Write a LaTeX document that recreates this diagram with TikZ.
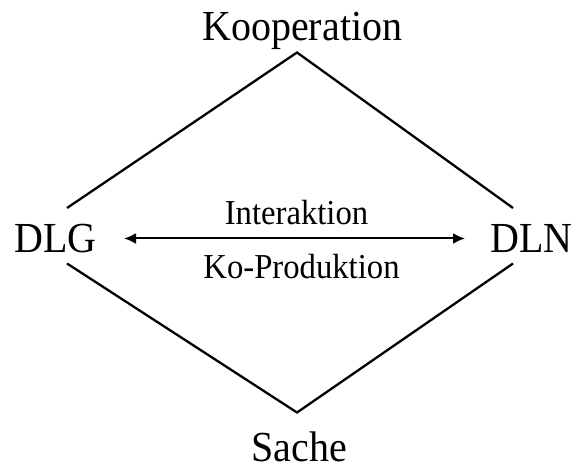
\documentclass[tikz,border=0pt]{standalone}
\usepackage{fontspec}
\setmainfont{Liberation Serif}
\usetikzlibrary{arrows.meta}
\newcommand\tallT[1]{\scalebox{1}[1.07]{#1}}
\begin{document}
\begin{tikzpicture}[x=1pt,y=1pt,
  big/.style={inner sep=0pt, font=\fontsize{40}{40}\selectfont},
  small/.style={inner sep=0pt, font=\fontsize{32.7}{32.7}\selectfont},
  edge/.style={line width=2.3pt, line join=miter},
  link/.style={line width=2pt, {Latex[length=12pt,width=11pt]}-{Latex[length=12pt,width=11pt]}}]
\useasboundingbox (0,0) rectangle (572,465);
\node[big, anchor=base] (koop) at (302.3,424) {\tallT{Kooperation}};
\node[big, anchor=base west] (dlg) at (14,212) {\tallT{DLG}};
\node[big, anchor=base west] (dln) at (490,212) {\tallT{DLN}};
\node[big, anchor=base] (sache) at (299,3) {\tallT{Sache}};
\node[small, anchor=base] (inter) at (296.5,240) {\tallT{Interaktion}};
\node[small, anchor=base] (kopro) at (301.5,186.7) {\tallT{Ko-Produktion}};
\coordinate (top) at (297,412.5);
\coordinate (bot) at (297,52.5);
\coordinate (lu) at (67,257);
\coordinate (ru) at (513,257);
\coordinate (ll) at (67,201.5);
\coordinate (rl) at (513,201.5);
\coordinate (al) at (124,226.5);
\coordinate (ar) at (465,226.5);
\draw[edge] (lu) -- (top) -- (ru);
\draw[edge] (ll) -- (bot) -- (rl);
\draw[link] (al) -- (ar);
\end{tikzpicture}
\end{document}
